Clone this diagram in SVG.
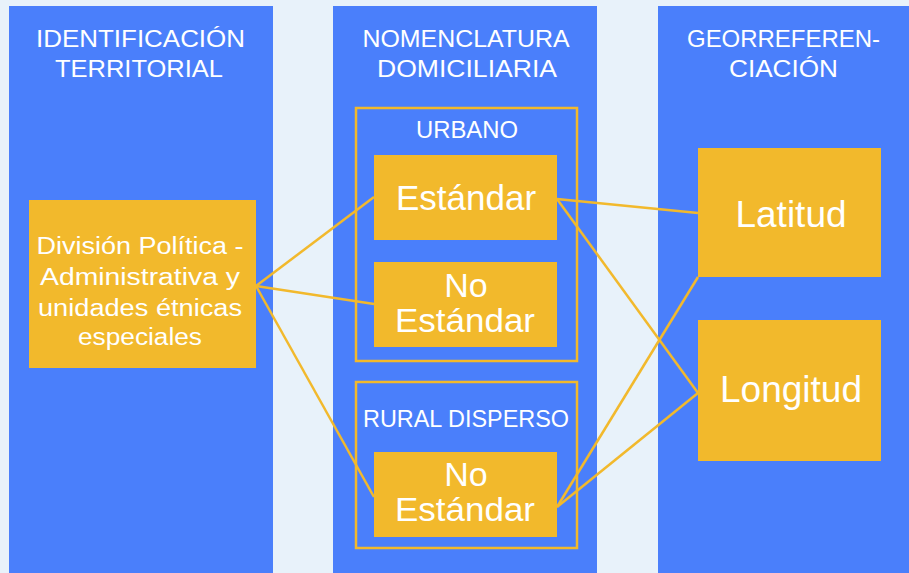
<svg xmlns="http://www.w3.org/2000/svg" width="909" height="573" viewBox="0 0 909 573">
<style>
.col{fill:#4A7FFB}
.node{fill:#F2B92C}
.frame{fill:none;stroke:#F2B92C;stroke-width:2.5}
text{font-family:"Liberation Sans",Arial,sans-serif;fill:#FFFFFF;text-anchor:middle}
.h{font-size:24px}
.d{font-size:23px}
.big{font-size:35px}
.two{font-size:34px}
.geo{font-size:37px}
.conn line{stroke:#F2B92C;stroke-width:2.5}
</style>
<rect width="909" height="573" fill="#E8F2FA"/>
<g id="col-identificacion">
<rect class="col" x="9" y="6" width="264" height="567"/>
<text class="h" x="140.5" y="47" textLength="209" lengthAdjust="spacingAndGlyphs">IDENTIFICACIÓN</text>
<text class="h" x="139" y="77" textLength="168" lengthAdjust="spacingAndGlyphs">TERRITORIAL</text>
</g>
<g id="col-nomenclatura">
<rect class="col" x="333" y="6" width="264" height="567"/>
<text class="h" x="466" y="47" textLength="207" lengthAdjust="spacingAndGlyphs">NOMENCLATURA</text>
<text class="h" x="467" y="77" textLength="180" lengthAdjust="spacingAndGlyphs">DOMICILIARIA</text>
</g>
<g id="col-georreferenciacion">
<rect class="col" x="658" y="6" width="251" height="567"/>
<text class="h" x="783.5" y="47" textLength="193" lengthAdjust="spacingAndGlyphs">GEORREFEREN-</text>
<text class="h" x="783.5" y="77" textLength="109" lengthAdjust="spacingAndGlyphs">CIACIÓN</text>
</g>
<g id="urbano">
<rect class="frame" x="356" y="108" width="221" height="253"/>
<text class="h" x="467" y="138" textLength="102" lengthAdjust="spacingAndGlyphs">URBANO</text>
</g>
<g id="rural">
<rect class="frame" x="356" y="382" width="221" height="166"/>
<text class="h" x="466" y="427" textLength="206" lengthAdjust="spacingAndGlyphs">RURAL DISPERSO</text>
</g>
<g class="conn" id="connectors">
<line x1="256" y1="286" x2="374" y2="197"/>
<line x1="256" y1="286" x2="374" y2="304"/>
<line x1="256" y1="286" x2="374" y2="497"/>
<line x1="557" y1="199" x2="698" y2="213"/>
<line x1="557" y1="199" x2="698" y2="393"/>
<line x1="557" y1="507" x2="698" y2="277"/>
<line x1="557" y1="507" x2="698" y2="393"/>
</g>
<g id="division">
<rect class="node" x="29" y="200" width="227" height="168"/>
<text class="d" x="140" y="254" textLength="207" lengthAdjust="spacingAndGlyphs">División Política -</text>
<text class="d" x="140" y="285" textLength="200" lengthAdjust="spacingAndGlyphs">Administrativa y</text>
<text class="d" x="140" y="316" textLength="204" lengthAdjust="spacingAndGlyphs">unidades étnicas</text>
<text class="d" x="140" y="345" textLength="124" lengthAdjust="spacingAndGlyphs">especiales</text>
</g>
<g id="urbano-estandar">
<rect class="node" x="374" y="155" width="183" height="85"/>
<text class="big" x="466" y="210">Estándar</text>
</g>
<g id="urbano-no-estandar">
<rect class="node" x="374" y="262" width="183" height="85"/>
<text class="two" x="466" y="297">No</text>
<text class="two" x="465" y="332" textLength="140" lengthAdjust="spacingAndGlyphs">Estándar</text>
</g>
<g id="rural-no-estandar">
<rect class="node" x="374" y="452" width="183" height="85"/>
<text class="two" x="466" y="486">No</text>
<text class="two" x="465" y="521" textLength="140" lengthAdjust="spacingAndGlyphs">Estándar</text>
</g>
<g id="latitud">
<rect class="node" x="698" y="148" width="183" height="129"/>
<text class="geo" x="791" y="227">Latitud</text>
</g>
<g id="longitud">
<rect class="node" x="698" y="320" width="183" height="141"/>
<text class="geo" x="791" y="402">Longitud</text>
</g>
</svg>
